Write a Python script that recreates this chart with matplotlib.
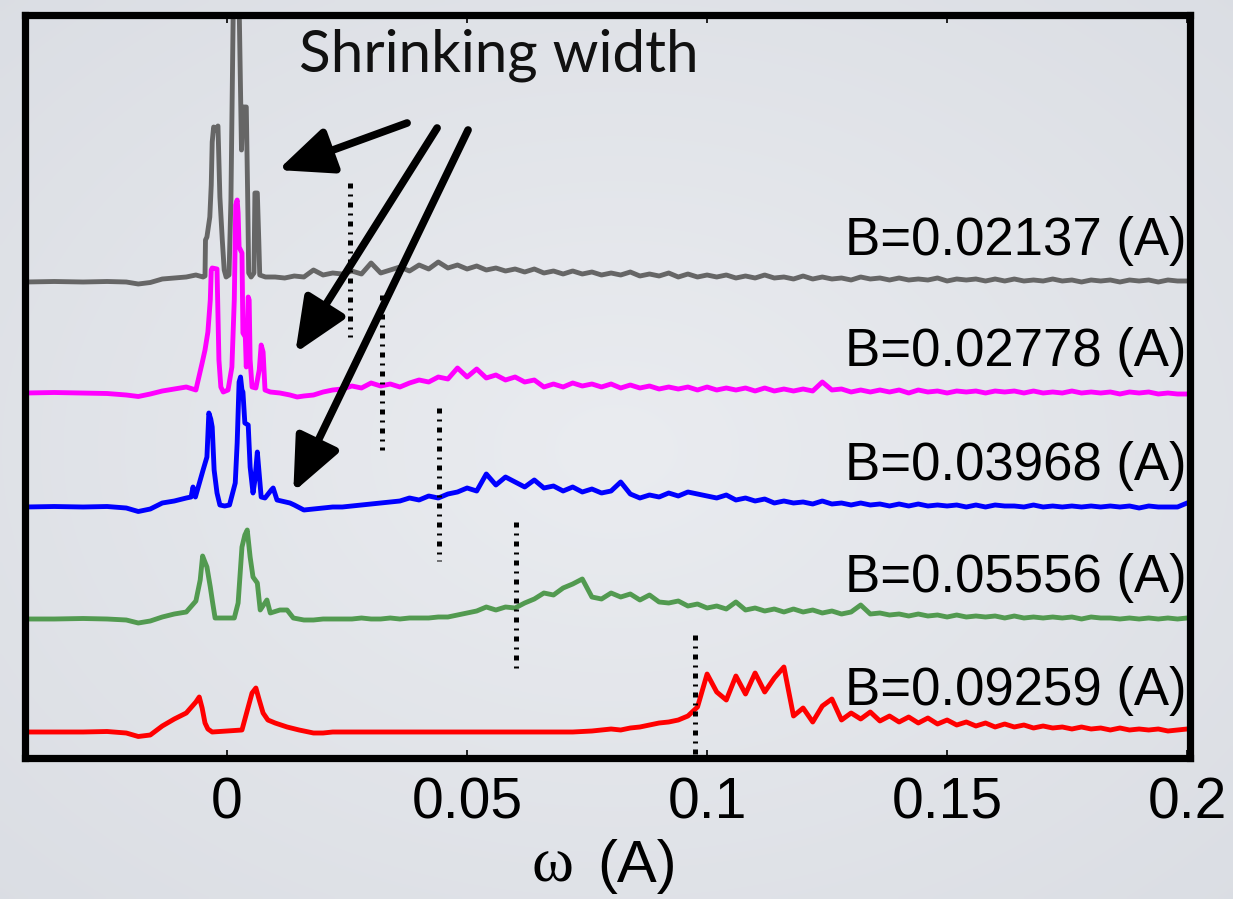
import matplotlib
matplotlib.use("Agg")
import matplotlib.pyplot as plt
import numpy as np

# ---------------- data ----------------
X_LEFT = [-0.042, -0.036, -0.030, -0.025, -0.021, -0.0185, -0.016, -0.0135, -0.011, -0.0085]

X_BROAD = [0.016, 0.018, 0.020, 0.022, 0.024, 0.026, 0.028, 0.030, 0.032, 0.034,
           0.036, 0.038, 0.040, 0.042, 0.044, 0.046, 0.048, 0.050, 0.052, 0.054,
           0.056, 0.058, 0.060, 0.062, 0.064, 0.066, 0.068, 0.070, 0.072, 0.074,
           0.076, 0.078, 0.080, 0.082, 0.084, 0.086, 0.088, 0.090, 0.092, 0.094,
           0.096, 0.098, 0.100, 0.102, 0.104, 0.106, 0.108, 0.110, 0.112, 0.114,
           0.116, 0.118, 0.120, 0.122, 0.124, 0.126, 0.128, 0.130, 0.132, 0.134,
           0.136, 0.138, 0.140, 0.142, 0.144, 0.146, 0.148, 0.150, 0.152, 0.154,
           0.156, 0.158, 0.160, 0.162, 0.164, 0.166, 0.168, 0.170, 0.172, 0.174,
           0.176, 0.178, 0.180, 0.182, 0.184, 0.186, 0.188, 0.190, 0.192, 0.194,
           0.196, 0.198, 0.200]

# B = 0.02137 (gray)
GRAY_LEFT = [0, 0.05, 0, 0.05, 0, -0.2, -0.05, 0.3, 0.4, 0.5]
GRAY_PX = [-0.0065, -0.005, -0.0046, -0.0045, -0.0042, -0.0036, -0.0033, -0.0031, -0.0028, -0.0024,
           -0.0019, -0.0017, -0.0015, -0.001, -0.0006, -0.0002, 0.0004, 0.0008, 0.001, 0.0013,
           0.0025, 0.0027, 0.003, 0.0033, 0.004, 0.0043, 0.0045, 0.0050, 0.0056, 0.0058,
           0.0063, 0.0066, 0.0068, 0.008, 0.010, 0.012, 0.014]
GRAY_PY = [0.7, 0.5, 0.6, 4.2, 4.5, 6.5, 9.7, 14.0, 15.5, 15.2,
           15.6, 12.2, 8.5, 4.2, 1.2, 0.5, 0.7, 8.2, 16.5, 28.0,
           28.0, 22.0, 13.2, 17.5, 17.5, 8.2, 0.9, 0.5, 0.9, 8.9,
           8.9, 4.2, 0.7, 0.5, 0.5, 0.4, 0.6]
GRAY_BROAD = [0.5, 1.2, 0.7, 0.9, 0.8, 1.1, 0.8, 1.9, 0.9, 1.2,
              1.5, 1.1, 1.7, 1.3, 2.0, 1.4, 1.7, 1.3, 1.6, 1.2,
              1.4, 1.1, 1.3, 1.0, 1.3, 0.9, 1.1, 0.8, 1.1, 0.8,
              1.0, 0.7, 0.9, 0.7, 1.0, 0.6, 0.8, 0.6, 0.9, 0.5,
              0.8, 0.5, 0.7, 0.5, 0.7, 0.4, 0.6, 0.4, 0.7, 0.4,
              0.5, 0.3, 0.6, 0.3, 0.5, 0.3, 0.4, 0.2, 0.5, 0.3,
              0.4, 0.2, 0.4, 0.2, 0.3, 0.2, 0.4, 0.1, 0.3, 0.2,
              0.3, 0.1, 0.3, 0.1, 0.3, 0.1, 0.2, 0.1, 0.3, 0.1,
              0.2, 0.0, 0.2, 0.1, 0.2, 0.0, 0.2, 0.1, 0.2, 0.0,
              0.2, 0.1, 0.1]

# B = 0.02778 (magenta)
MAG_LEFT = [0, 0.05, 0, -0.05, -0.2, -0.35, -0.1, 0.2, 0.4, 0.6]
MAG_PX = [-0.0065, -0.0052, -0.0046, -0.004, -0.0035, -0.0033, -0.0031, -0.0021, -0.0019, -0.0017,
          -0.0013, -0.0008, 0.0002, 0.001, 0.0015, 0.0018, 0.0021, 0.0023, 0.0025, 0.0031,
          0.0033, 0.0038, 0.0040, 0.0042, 0.0044, 0.0046, 0.0048, 0.0052, 0.006, 0.0067,
          0.0071, 0.0075, 0.0079, 0.009, 0.011, 0.0131, 0.0146]
MAG_PY = [0.3, 3.0, 4.3, 6.1, 9.3, 12.3, 12.5, 12.4, 8.0, 3.3,
          0.6, 0.1, 0.3, 2.6, 9.3, 18.8, 19.3, 18.0, 14.6, 14.0,
          6.0, 5.6, 2.6, 6.3, 9.6, 9.3, 3.3, 0.6, 0.5, 2.3,
          4.8, 4.1, 0.3, 0.1, 0.0, -0.2, -0.4]
MAG_BROAD = [-0.3, -0.2, 0.1, 0.3, 0.4, 0.7, 0.5, 1.0, 0.7, 0.9,
             0.6, 1.0, 1.3, 1.1, 1.6, 1.4, 2.5, 1.6, 2.4, 1.5,
             1.8, 1.3, 1.6, 1.1, 1.3, 0.6, 0.9, 0.6, 1.0, 0.7,
             0.9, 0.6, 0.9, 0.5, 0.8, 0.5, 0.7, 0.4, 0.6, 0.4,
             0.6, 0.3, 0.6, 0.3, 0.5, 0.3, 0.5, 0.2, 0.5, 0.2,
             0.4, 0.2, 0.4, 0.2, 1.1, 0.3, 0.4, 0.1, 0.3, 0.1,
             0.3, 0.1, 0.3, 0.0, 0.3, 0.1, 0.2, 0.0, 0.2, 0.1,
             0.2, 0.0, 0.2, 0.1, 0.2, 0.0, 0.2, 0.0, 0.1, 0.0,
             0.2, 0.0, 0.1, 0.0, 0.1, -0.1, 0.1, 0.0, 0.1, -0.1,
             0.0, -0.1, -0.1]

# B = 0.03968 (blue)
BLUE_LEFT = [0, 0.05, 0, 0.05, -0.1, -0.45, -0.2, 0.4, 0.6, 0.9]
BLUE_PX = [-0.0075, -0.0071, -0.0066, -0.005, -0.0042, -0.0038, -0.0034, -0.0031, -0.0027, -0.0021,
           -0.0015, -0.0005, 0.0005, 0.0017, 0.0021, 0.0025, 0.0028, 0.0031, 0.0033, 0.0037,
           0.0044, 0.0048, 0.0054, 0.0058, 0.0063, 0.0068, 0.0071, 0.0079, 0.0092, 0.0096,
           0.0104, 0.0131, 0.014]
BLUE_PY = [1.0, 2.0, 1.0, 3.7, 5.0, 9.4, 8.8, 8.0, 3.7, 1.4,
           0.2, 0.1, 0.2, 2.4, 6.4, 12.5, 13.0, 11.7, 11.5, 8.4,
           8.2, 4.0, 1.4, 2.7, 5.5, 2.7, 1.0, 0.9, 1.7, 1.9,
           0.7, 0.4, 0.2]
BLUE_BROAD = [-0.3, -0.2, -0.1, 0.0, 0.0, 0.1, 0.2, 0.3, 0.4, 0.5,
              0.6, 0.9, 0.7, 1.1, 0.9, 1.3, 1.5, 1.9, 1.6, 3.3,
              2.2, 3.0, 2.5, 2.0, 2.7, 1.9, 2.1, 1.6, 2.0, 1.5,
              1.8, 1.4, 1.6, 2.5, 1.3, 0.9, 1.2, 1.0, 1.4, 1.1,
              1.5, 1.3, 1.1, 0.9, 1.2, 0.7, 0.9, 0.6, 0.8, 0.4,
              0.6, 0.4, 0.5, 0.3, 0.6, 0.3, 0.4, 0.2, 0.4, 0.2,
              0.3, 0.1, 0.3, 0.1, 0.3, 0.1, 0.2, 0.1, 0.2, 0.0,
              0.2, 0.0, 0.2, 0.1, 0.1, 0.0, 0.2, 0.0, 0.1, 0.0,
              0.1, 0.0, 0.1, 0.0, 0.1, 0.0, 0.1, -0.1, 0.1, 0.0,
              0.0, 0.0, 0.4]

# B = 0.05556 (green)
GREEN_LEFT = [0, 0, 0.05, 0, -0.1, -0.4, -0.2, 0.2, 0.5, 0.7]
GREEN_PX = [-0.0065, -0.0056, -0.0051, -0.0047, -0.0042, -0.0035, -0.003, -0.0025, 0.0015, 0.0023,
            0.0031, 0.0037, 0.0042, 0.0048, 0.0054, 0.0063, 0.0069, 0.0083, 0.009, 0.011,
            0.0125, 0.0138]
GREEN_PY = [1.8, 3.9, 6.3, 5.8, 5.2, 3.2, 1.6, 0.1, 0.1, 1.6,
            7.2, 8.4, 8.9, 6.2, 4.2, 3.6, 0.9, 1.9, 0.6, 0.9,
            0.9, 0.1]
GREEN_BROAD = [-0.1, -0.1, 0.0, 0.0, 0.0, 0.0, 0.1, 0.0, 0.0, 0.1,
               0.0, 0.1, 0.1, 0.1, 0.2, 0.2, 0.4, 0.6, 0.8, 1.2,
               0.9, 1.2, 1.1, 1.6, 2.0, 2.6, 2.4, 3.1, 3.5, 4.0,
               2.2, 2.0, 2.6, 2.2, 2.5, 1.9, 2.4, 1.7, 1.6, 1.8,
               1.3, 1.5, 1.1, 1.3, 1.0, 1.7, 0.9, 1.1, 0.8, 1.0,
               0.7, 1.0, 0.7, 0.9, 0.6, 0.8, 0.5, 0.7, 1.4, 0.5,
               0.6, 0.4, 0.5, 0.3, 0.5, 0.3, 0.4, 0.2, 0.4, 0.2,
               0.3, 0.2, 0.3, 0.1, 0.3, 0.1, 0.2, 0.1, 0.2, 0.1,
               0.2, 0.0, 0.2, 0.1, 0.1, 0.0, 0.1, 0.0, 0.1, 0.0,
               0.1, 0.0, 0.1]

# B = 0.09259 (red)
RED_LEFT = [0, 0, 0, 0.05, -0.1, -0.45, -0.3, 0.6, 1.3, 1.9]
RED_PX = [-0.0065, -0.0058, -0.0052, -0.0046, -0.004, -0.0031, 0.0031, 0.0044, 0.0052, 0.006,
          0.0067, 0.0075, 0.0085, 0.01, 0.0125, 0.015]
RED_PY = [3.0, 3.5, 2.4, 0.9, 0.3, 0.0, 0.2, 2.5, 3.9, 4.4,
          3.2, 1.9, 1.2, 0.9, 0.5, 0.2]
RED_BROAD = [0.1, -0.1, -0.1, 0.0, 0.0, 0.0, 0.0, 0.0, 0.0, 0.0,
             0.0, 0.0, 0.0, 0.0, 0.0, 0.0, 0.0, 0.0, 0.0, 0.0,
             0.0, 0.0, 0.0, 0.0, 0.0, 0.0, 0.0, 0.0, 0.0, 0.05,
             0.1, 0.2, 0.3, 0.2, 0.4, 0.5, 0.7, 0.9, 1.0, 1.2,
             1.6, 2.5, 5.8, 4.0, 3.2, 5.6, 3.8, 5.9, 4.0, 5.4,
             6.5, 1.6, 2.4, 1.0, 2.6, 3.3, 1.2, 1.9, 1.3, 2.0,
             1.1, 1.6, 1.0, 1.5, 0.9, 1.4, 0.8, 1.2, 0.7, 1.0,
             0.6, 0.9, 0.5, 0.8, 0.5, 0.7, 0.4, 0.6, 0.4, 0.5,
             0.3, 0.5, 0.3, 0.4, 0.2, 0.4, 0.2, 0.3, 0.2, 0.3,
             0.1, 0.2, 0.3]

LABELS = ["B=0.02137 (A)", "B=0.02778 (A)", "B=0.03968 (A)", "B=0.05556 (A)", "B=0.09259 (A)"]
OFFSETS = [47.6, 36.5, 25.1, 13.9, 2.6]
COLORS = ["#666666", "#ff00ff", "#0000ff", "#529a50", "#ff0000"]

DASH_X = [0.0256, 0.0322, 0.0442, 0.0601, 0.0975]
DASH_TOP = [57.5, 46.3, 35.0, 23.6, 12.3]
DASH_BOTTOM = [42.1, 30.8, 19.7, 8.4, -1.0]

XTICKS = [0, 0.05, 0.1, 0.15, 0.2]
XTICK_LABELS = ["0", "0.05", "0.1", "0.15", "0.2"]

SERIES = [
    (GRAY_LEFT, GRAY_PX, GRAY_PY, GRAY_BROAD),
    (MAG_LEFT, MAG_PX, MAG_PY, MAG_BROAD),
    (BLUE_LEFT, BLUE_PX, BLUE_PY, BLUE_BROAD),
    (GREEN_LEFT, GREEN_PX, GREEN_PY, GREEN_BROAD),
    (RED_LEFT, RED_PX, RED_PY, RED_BROAD),
]

# ---------------- figure ----------------
W, H = 1233, 899
fig = plt.figure(figsize=(W / 100, H / 100), dpi=100)
fig.patch.set_facecolor("#e1e4e9")

# soft slide-like background (radial vignette)
bg = fig.add_axes([0, 0, 1, 1], zorder=-10)
gy, gx = np.mgrid[0:1:200j, 0:1:280j]
r = np.sqrt(((gx - 0.5) / 0.75) ** 2 + ((gy - 0.5) / 0.75) ** 2)
c_in = np.array([234, 236, 240]) / 255.0
c_out = np.array([218, 221, 227]) / 255.0
img = c_in[None, None, :] + (c_out - c_in)[None, None, :] * np.clip(r, 0, 1)[..., None]
bg.imshow(img, aspect="auto", extent=[0, 1, 0, 1], interpolation="bilinear")
bg.axis("off")

ax = fig.add_axes([25 / W, (H - 758) / H, 1165 / W, 743 / H])
ax.patch.set_alpha(0)

SANS = ["Liberation Sans", "DejaVu Sans"]

for (left, px, py, broad), off, color in zip(SERIES, OFFSETS, COLORS):
    xs = np.array(X_LEFT + px + X_BROAD)
    ys = np.array(left + py + broad) + off
    ax.plot(xs, ys, color=color, lw=3.5, solid_joinstyle="round")

for x, y1, y0 in zip(DASH_X, DASH_TOP, DASH_BOTTOM):
    ax.plot([x, x], [y1, y0], color="black", lw=3.6,
            dashes=(1.0, 1.2, 0.4, 1.2), dash_capstyle="butt")

for lab, off in zip(LABELS, OFFSETS):
    ax.text(0.1999, off + 4.1, lab, ha="right", va="center",
            fontsize=38, family=SANS, color="black")

ax.set_xlim(-0.0421, 0.2006)
ax.set_ylim(0, 74.3)
ax.set_xticks(XTICKS)
ax.set_xticklabels(XTICK_LABELS, fontsize=41, family=SANS)
ax.set_yticks([])
ax.tick_params(axis="x", direction="in", length=6, width=1.2,
               top=True, bottom=True, pad=13)
for s in ax.spines.values():
    s.set_linewidth(5.2)

# x label: serif omega + sans "(A)"
fig.text(553 / W, (H - 882) / H, "\u03c9", fontsize=46, family=["Liberation Serif", "DejaVu Serif"],
         ha="center", va="baseline")
fig.text(597 / W, (H - 882) / H, "(A)", fontsize=43, family=SANS, ha="left", va="baseline")

# annotation text and arrows
fig.text(499 / W, (H - 72) / H, "Shrinking width", fontsize=42,
         family=["Lato", "DejaVu Sans"], ha="center", va="baseline", color="#111111")

arrows = [((0.0375, 63.5), (0.0106, 58.8)),
          ((0.04375, 63.0), (0.0142, 40.5)),
          ((0.0502, 62.8), (0.0138, 26.6))]
for tail, head in arrows:
    ax.annotate("", xy=head, xytext=tail, xycoords="data", textcoords="data",
                annotation_clip=False,
                arrowprops=dict(arrowstyle="-|>,head_length=1.5,head_width=0.65",
                                mutation_scale=22, lw=5.5, color="black",
                                shrinkA=0, shrinkB=0))

fig.savefig("out.png", dpi=100, facecolor=fig.get_facecolor())
